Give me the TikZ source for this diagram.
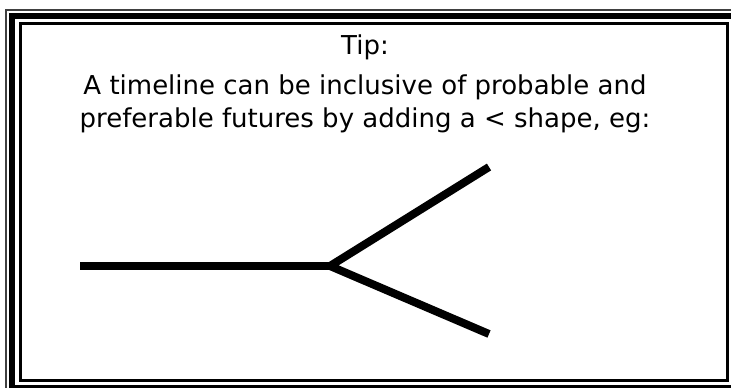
\documentclass[tikz,border=0pt]{standalone}
\usepackage{fontspec}
\setmainfont{DejaVu Sans}
\usetikzlibrary{positioning}

\begin{document}
\begin{tikzpicture}[
  x=1pt, y=-1pt,
  txt/.style={font=\fontsize{26}{33}\selectfont, align=center, inner sep=0pt},
  frm/.style={draw=black, line width=#1},
  tl/.style={line width=8pt, line cap=butt, line join=miter}
]
\useasboundingbox (0,0) rectangle (731,388);
\clip (0,0) rectangle (731,388);
% frame
\draw[frm=2pt, draw=black!75] (6,10) rectangle (742,394);
\draw[frm=6pt] (12,16) rectangle (735,388);
\draw[frm=3pt] (20,23.5) rectangle (727,380.5);
% text
\node[txt] (tip) at (365,47) {Tip:};
\node[txt, below=15pt of tip] (body)
  {A timeline can be inclusive of probable and\\preferable futures by adding a < shape, eg:};
% timeline
\coordinate (st) at (80,266);
\coordinate (fk) at (330,266);
\coordinate (up) at (489,167);
\coordinate (dn) at (489,334);
\draw[tl] (st) -- (fk);
\draw[tl] (up) -- (fk) -- (dn);
\end{tikzpicture}
\end{document}
